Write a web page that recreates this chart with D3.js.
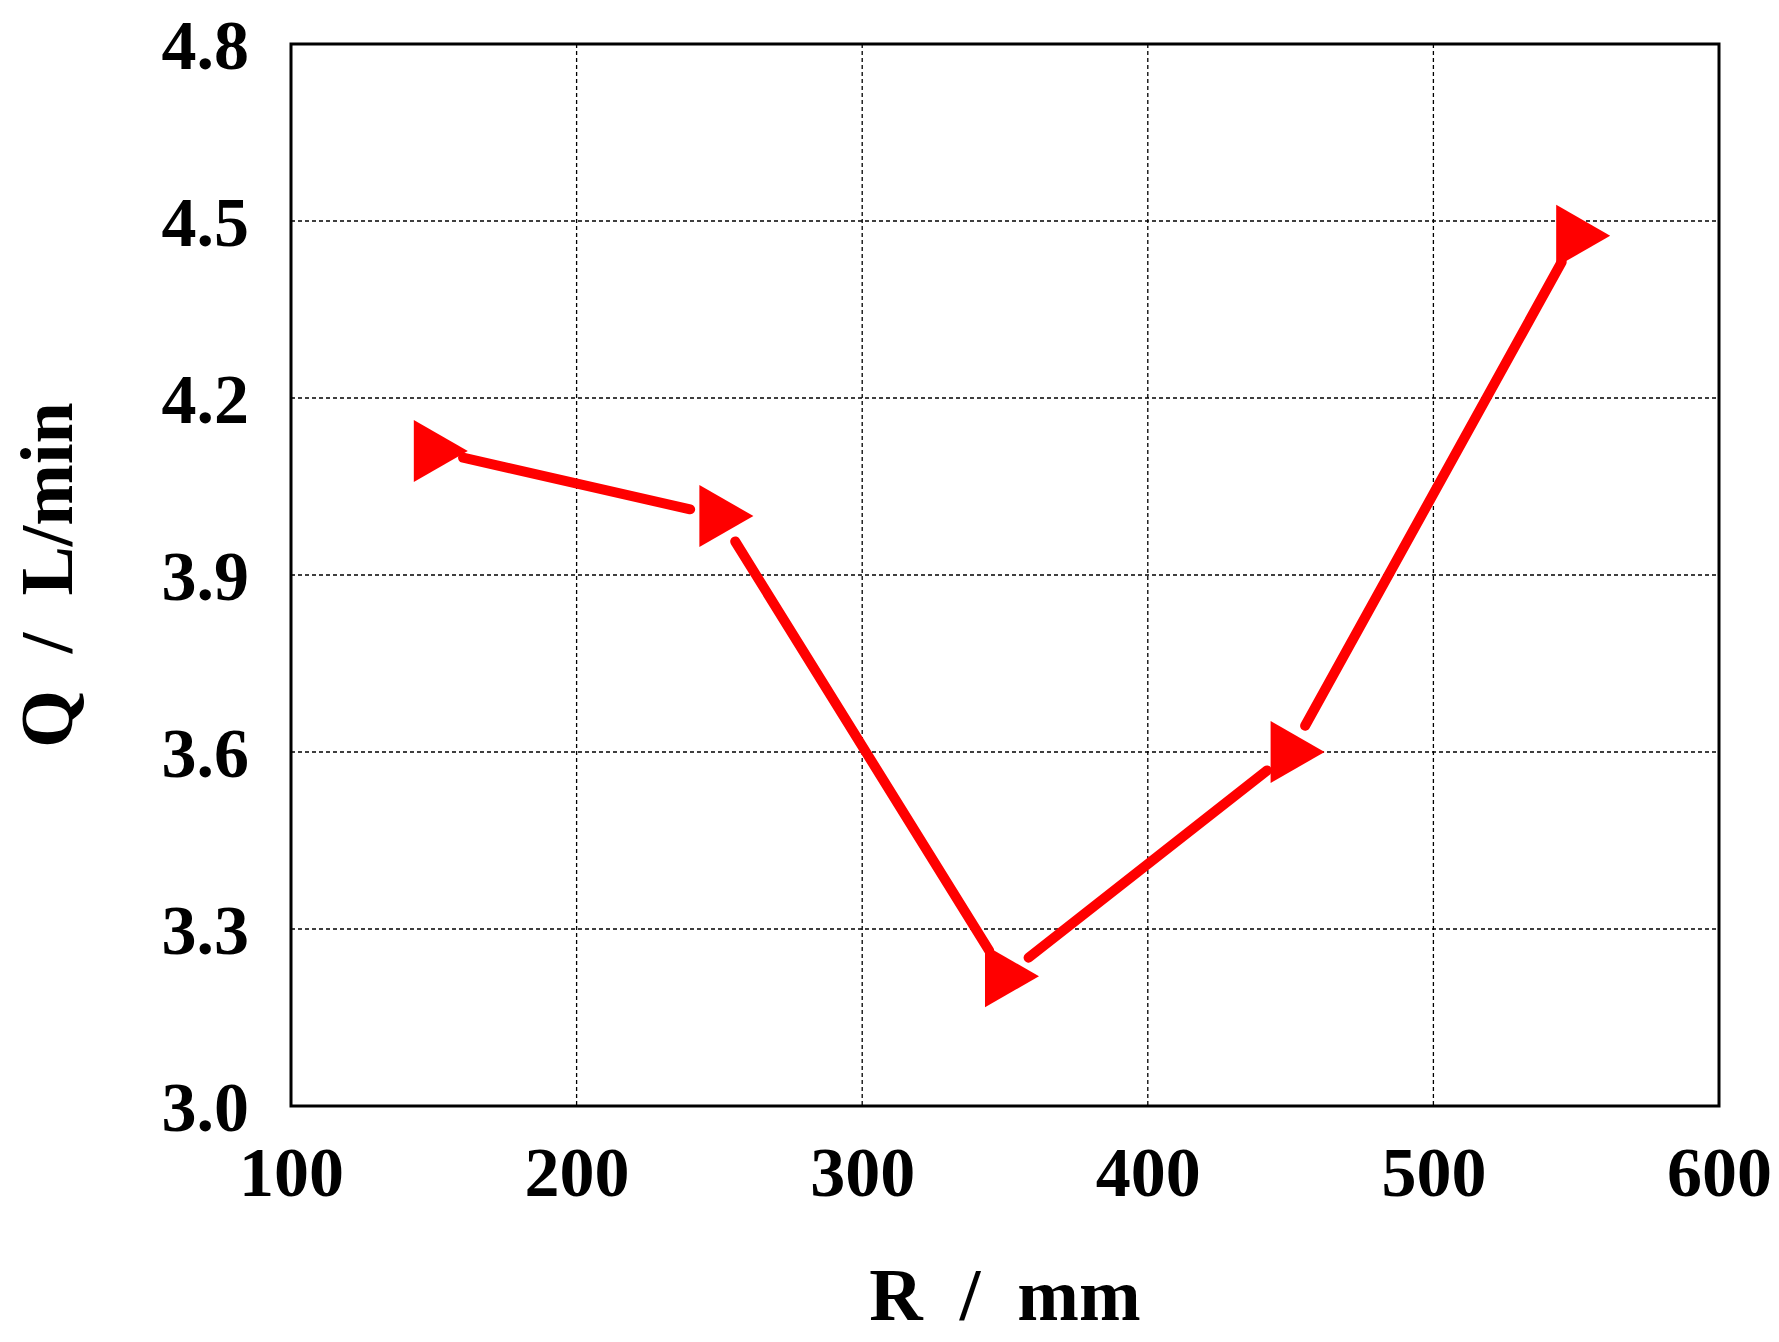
<!DOCTYPE html>
<html><head><meta charset="utf-8">
<script src="https://cdn.jsdelivr.net/npm/d3@7"></script>
<style>body{margin:0;background:#fff}</style>
</head><body>
<svg id="chart" width="1779" height="1342"></svg>
<script>
var rValues = [150, 250, 350, 450, 550];
var qValues = [4.11, 4.00, 3.22, 3.60, 4.475];
var xTicks = [100, 200, 300, 400, 500, 600];
var yTicks = [3.0, 3.3, 3.6, 3.9, 4.2, 4.5, 4.8];

var svg = d3.select("#chart"),
    pLeft = 291, pRight = 1719, pTop = 44, pBottom = 1106;
var font = "'Liberation Serif', 'Times New Roman', serif";

var x = d3.scaleLinear().domain([100, 600]).range([pLeft, pRight]),
    y = d3.scaleLinear().domain([3.0, 4.8]).range([pBottom, pTop]);

// grid
svg.append("g").selectAll("line").data(xTicks.slice(1, -1)).enter().append("line")
   .attr("x1", d => x(d)).attr("x2", d => x(d)).attr("y1", pTop).attr("y2", pBottom)
   .attr("stroke", "#000").attr("stroke-width", 1.3).attr("stroke-dasharray", "4,3");
svg.append("g").selectAll("line").data(yTicks.slice(1, -1)).enter().append("line")
   .attr("y1", d => y(d)).attr("y2", d => y(d)).attr("x1", pLeft).attr("x2", pRight)
   .attr("stroke", "#000").attr("stroke-width", 1.3).attr("stroke-dasharray", "4,3");

// axes
var gx = svg.append("g").attr("transform", "translate(0," + pBottom + ")")
   .call(d3.axisBottom(x).tickValues(xTicks).tickSize(0).tickPadding(40).tickFormat(d3.format("d")));
var gy = svg.append("g").attr("transform", "translate(" + pLeft + ",0)")
   .call(d3.axisLeft(y).tickValues(yTicks).tickSize(0).tickPadding(42).tickFormat(d3.format(".1f")));
[gx, gy].forEach(g => {
  g.select(".domain").remove();
  g.selectAll("text").style("font-family", font).style("font-weight", "bold")
   .style("font-size", "70px").attr("fill", "#000");
});
gx.selectAll(".tick text").attr("dy", "0.71em");
gy.selectAll(".tick text").attr("dy", "0.35em");

svg.append("rect").attr("x", pLeft).attr("y", pTop).attr("width", pRight - pLeft).attr("height", pBottom - pTop)
   .attr("fill", "none").attr("stroke", "#000").attr("stroke-width", 3);

// line segments with gaps at markers
var pts = rValues.map((r, i) => [x(r), y(qValues[i])]);
var gap = 30;
for (var i = 0; i < pts.length - 1; i++) {
  var a = pts[i], b = pts[i + 1];
  var dx = b[0] - a[0], dy = b[1] - a[1], L = Math.hypot(dx, dy);
  svg.append("line")
     .attr("x1", a[0] + dx / L * gap).attr("y1", a[1] + dy / L * gap)
     .attr("x2", b[0] - dx / L * gap).attr("y2", b[1] - dy / L * gap)
     .attr("stroke", "#ff0000").attr("stroke-width", 10).attr("stroke-linecap", "round");
}

// triangle markers
svg.append("g").selectAll("path").data(pts).enter().append("path")
   .attr("d", "M-20,-31 L34,0 L-20,31 Z")
   .attr("transform", d => "translate(" + d[0] + "," + d[1] + ")")
   .attr("fill", "#ff0000");

// titles
svg.append("text").attr("x", (pLeft + pRight) / 2).attr("y", 1320).attr("text-anchor", "middle")
   .style("font-family", font).style("font-weight", "bold").style("font-size", "74px")
   .attr("xml:space", "preserve").text("R  /  mm");
svg.append("text").attr("transform", "translate(72," + (pTop + pBottom) / 2 + ") rotate(-90)")
   .attr("text-anchor", "middle")
   .style("font-family", font).style("font-weight", "bold").style("font-size", "74px")
   .attr("xml:space", "preserve").text("Q  /  L/min");
</script>
</body></html>
